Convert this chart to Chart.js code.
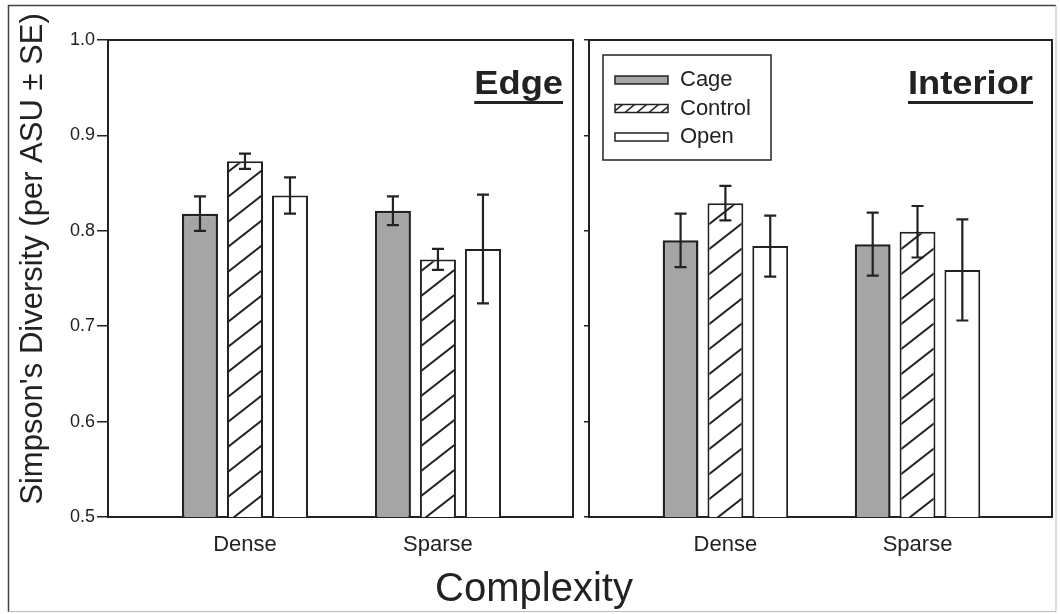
<!DOCTYPE html>
<html><head><meta charset="utf-8">
<script src="https://cdn.jsdelivr.net/npm/chart.js@4.4.1/dist/chart.umd.min.js"></script>
<style>
html,body{margin:0;padding:0;background:#fff;}
#wrap{position:relative;width:1060px;height:614px;overflow:hidden;background:#fff;}
canvas{position:absolute;top:0;}
#cA{left:0;} #cB{left:580px;}
</style></head><body>
<div id="wrap"><canvas id="cA" width="1060" height="614"></canvas><canvas id="cB" width="480" height="614"></canvas></div>
<script>
// ---- data ----
const categories = ['Dense', 'Sparse'];
const seriesNames = ['Cage', 'Control', 'Open'];
const panelTitles = ['Edge', 'Interior'];
const yTickValues = [0.5, 0.6, 0.7, 0.8, 0.9, 1.0];
const yAxisTitle = "Simpson's Diversity (per ASU \u00B1 SE)";
const xAxisTitle = 'Complexity';

const edgeCage = [0.818, 0.821];
const edgeCageSE = [0.018, 0.015];
const edgeControl = [0.873, 0.770];
const edgeControlSE = [0.008, 0.011];
const edgeOpen = [0.837, 0.781];
const edgeOpenSE = [0.019, 0.057];

const interiorCage = [0.790, 0.786];
const interiorCageSE = [0.028, 0.033];
const interiorControl = [0.829, 0.799];
const interiorControlSE = [0.018, 0.027];
const interiorOpen = [0.784, 0.759];
const interiorOpenSE = [0.032, 0.053];

// ---- styles ----
const FONT = "'Liberation Sans', Arial, Helvetica, sans-serif";
const INK = '#222222';
const GRAY = '#a5a5a5';

function makeHatch(W, H, lw) {
  const c = document.createElement('canvas');
  c.width = W; c.height = H;
  const g = c.getContext('2d');
  g.fillStyle = '#ffffff'; g.fillRect(0, 0, W, H);
  g.strokeStyle = INK; g.lineWidth = lw;
  for (let k = -1; k <= 1; k++) {
    // line through (0, H + kH) and (W, kH)
    g.beginPath();
    g.moveTo(-W, 2 * H + k * H);
    g.lineTo(2 * W, -H + k * H);
    g.stroke();
  }
  return g.createPattern(c, 'repeat');
}
const hatch = makeHatch(32, 25, 2);
const hatchSmall = makeHatch(12, 10, 1.5);

const fills = [GRAY, hatch, '#ffffff'];
const legendFills = [GRAY, hatchSmall, '#ffffff'];
const borderWidths = [2.5, 2, 2];

function toPoints(arr) { return arr.map((v, i) => ({ x: i + 1, y: v })); }

function buildDatasets(values, errors) {
  return values.map((vals, s) => ({
    label: seriesNames[s],
    data: toPoints(vals),
    errors: errors[s],
    legendFill: legendFills[s],
    backgroundColor: fills[s],
    borderColor: INK,
    borderWidth: borderWidths[s],
    borderSkipped: 'start',
    categoryPercentage: 0.70,
    barPercentage: 0.80
  }));
}

const errorBars = {
  id: 'errorBars',
  afterDatasetsDraw(chart) {
    const ctx = chart.ctx, ys = chart.scales.y;
    ctx.save();
    ctx.strokeStyle = INK;
    ctx.lineWidth = 2.2;
    chart.data.datasets.forEach((ds, i) => {
      const meta = chart.getDatasetMeta(i);
      meta.data.forEach((bar, j) => {
        const v = ds.data[j].y, e = ds.errors[j];
        const top = ys.getPixelForValue(v + e), bot = ys.getPixelForValue(v - e);
        const x = bar.x, cap = 6;
        ctx.beginPath();
        ctx.moveTo(x, top); ctx.lineTo(x, bot);
        ctx.moveTo(x - cap, top); ctx.lineTo(x + cap, top);
        ctx.moveTo(x - cap, bot); ctx.lineTo(x + cap, bot);
        ctx.stroke();
      });
    });
    ctx.restore();
  }
};

const panelDecor = {
  id: 'panelDecor',
  afterDraw(chart, args, o) {
    const ctx = chart.ctx, a = chart.chartArea;
    ctx.save();
    // panel box (top and right)
    ctx.strokeStyle = INK; ctx.lineWidth = 2;
    ctx.beginPath();
    ctx.moveTo(a.left, a.top); ctx.lineTo(a.right, a.top); ctx.lineTo(a.right, a.bottom);
    ctx.stroke();
    // panel title, bold underlined
    ctx.fillStyle = INK;
    ctx.font = 'bold 33px ' + FONT;
    ctx.textAlign = 'right'; ctx.textBaseline = 'alphabetic';
    const sx = 1.1;
    const tx = a.right - o.titleInset, ty = a.top + 54;
    const w = ctx.measureText(o.title).width * sx;
    ctx.save();
    ctx.translate(tx, ty);
    ctx.scale(sx, 1);
    ctx.fillText(o.title, 0, 0);
    ctx.restore();
    ctx.fillRect(tx - w, ty + 7, w, 3);
    // legend
    if (o.legend) {
      const lx = a.left + 14, ly = a.top + 15, lw = 168, lh = 105;
      ctx.strokeStyle = INK; ctx.lineWidth = 1.5;
      ctx.strokeRect(lx, ly, lw, lh);
      ctx.font = '22px ' + FONT;
      ctx.textAlign = 'left'; ctx.textBaseline = 'middle';
      chart.data.datasets.forEach((ds, i) => {
        const cy = ly + 25 + i * 28.5;
        ctx.fillStyle = ds.legendFill;
        ctx.fillRect(lx + 12, cy - 4, 53, 8);
        ctx.strokeStyle = INK; ctx.lineWidth = 1.5;
        ctx.strokeRect(lx + 12, cy - 4, 53, 8);
        ctx.fillStyle = INK;
        ctx.fillText(ds.label, lx + 77, cy);
      });
    }
    // figure-level texts and frame (left chart only)
    if (o.figure) {
      ctx.fillStyle = INK;
      ctx.font = '31px ' + FONT;
      ctx.textAlign = 'center'; ctx.textBaseline = 'middle';
      ctx.save();
      ctx.translate(33, 259);
      ctx.rotate(-Math.PI / 2);
      ctx.fillText(yAxisTitle, 0, 0);
      ctx.restore();
      ctx.font = '40px ' + FONT;
      ctx.fillText(xAxisTitle, 534, 590);
      ctx.strokeStyle = '#444'; ctx.lineWidth = 1.5;
      ctx.beginPath();
      ctx.moveTo(8.5, 612); ctx.lineTo(8.5, 5.5); ctx.lineTo(1056, 5.5);
      ctx.stroke();
      ctx.strokeStyle = '#bbb'; ctx.lineWidth = 1;
      ctx.beginPath();
      ctx.moveTo(8.5, 611.5); ctx.lineTo(1056, 611.5); ctx.lineTo(1056, 5.5);
      ctx.stroke();
    }
    ctx.restore();
  }
};

function makePanel(canvasId, values, errors, cfg) {
  return new Chart(document.getElementById(canvasId), {
    type: 'bar',
    data: { datasets: buildDatasets(values, errors) },
    plugins: [errorBars, panelDecor],
    options: {
      responsive: false,
      animation: false,
      layout: { padding: { top: 40, right: cfg.padRight, left: 0, bottom: 0 } },
      plugins: {
        legend: { display: false },
        tooltip: { enabled: false },
        panelDecor: { title: cfg.title, titleInset: cfg.titleInset, legend: cfg.legend, figure: cfg.figure }
      },
      scales: {
        x: {
          type: 'linear', min: 0.29, max: 2.70, offset: false,
          afterBuildTicks: s => { s.ticks = categories.map((c, i) => ({ value: i + 1 })); },
          afterFit: s => { s.height = 97; },
          grid: { display: false },
          border: { display: true, color: INK, width: 2 },
          ticks: {
            autoSkip: false, maxRotation: 0, padding: 7,
            color: INK, font: { family: FONT, size: 22 },
            callback: v => categories[Math.round(v) - 1] || ''
          }
        },
        y: {
          min: 0.5, max: 1.0,
          afterBuildTicks: s => { s.ticks = yTickValues.map(v => ({ value: v })); },
          afterFit: s => { s.width = cfg.yWidth; },
          grid: { display: true, drawOnChartArea: false, drawTicks: true, tickLength: cfg.tickLength, color: INK, lineWidth: 1.5 },
          border: { display: true, color: INK, width: 2 },
          ticks: {
            padding: 2, color: INK, font: { family: FONT, size: 18 },
            callback: v => cfg.showLabels ? Number(v).toFixed(1) : ''
          }
        }
      }
    }
  });
}

makePanel('cA',
  [edgeCage, edgeControl, edgeOpen],
  [edgeCageSE, edgeControlSE, edgeOpenSE],
  { padRight: 487, yWidth: 108, tickLength: 11, showLabels: true, title: panelTitles[0], titleInset: 10, legend: false, figure: true });

makePanel('cB',
  [interiorCage, interiorControl, interiorOpen],
  [interiorCageSE, interiorControlSE, interiorOpenSE],
  { padRight: 8, yWidth: 9, tickLength: 5, showLabels: false, title: panelTitles[1], titleInset: 19, legend: true, figure: false });
</script>
</body></html>
